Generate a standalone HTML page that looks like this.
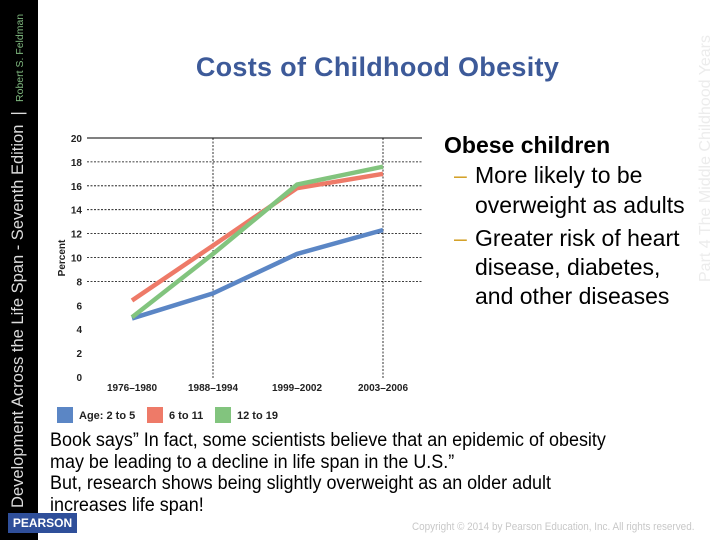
<!DOCTYPE html>
<html><head><meta charset="utf-8"><style>
body{margin:0;width:720px;height:540px;overflow:hidden;background:#fff;font-family:"Liberation Sans",sans-serif;position:relative}
.abs{position:absolute}
</style></head><body>
<div class="abs" style="left:0;top:0;width:38px;height:540px;background:#000"></div>
<div class="abs" style="left:8px;top:508px;transform-origin:0 0;transform:rotate(-90deg);color:#ddd;font-size:16.5px;white-space:nowrap;line-height:20px">Development Across the Life Span - Seventh Edition &nbsp;| &nbsp;<span style="color:#7fb87f;font-size:10.5px">Robert S. Feldman</span></div>
<div class="abs" style="left:8px;top:513px;width:69px;height:20px;background:#2f4f9a;color:#fff;font-size:12px;font-weight:bold;line-height:20px;text-align:center">PEARSON</div>
<div class="abs" style="left:696px;top:282px;transform-origin:0 0;transform:rotate(-90deg);color:#ececec;font-size:16px;white-space:nowrap;line-height:20px">Part 4 The Middle Childhood Years</div>
<div class="abs" style="left:100px;top:52px;width:555px;text-align:center;color:#3d5a99;font-size:27px;font-weight:bold;letter-spacing:0.3px">Costs of Childhood Obesity</div>
<div class="abs" style="left:444px;top:130px;font-size:23px;line-height:30px;color:#000;width:276px;white-space:nowrap">
<div style="font-weight:bold">Obese children</div>
<div style="position:relative;padding-left:31px"><span style="position:absolute;left:10px;color:#d4a22a">–</span>More likely to be<br>overweight as adults</div>
<div style="position:relative;padding-left:31px;line-height:29px;margin-top:4px"><span style="position:absolute;left:10px;color:#d4a22a">–</span>Greater risk of heart<br>disease, diabetes,<br>and other diseases</div>
</div>
<div class="abs" style="left:50px;top:430px;font-size:19px;line-height:21.5px;color:#000;transform:scaleX(0.945);transform-origin:left top;white-space:nowrap">Book says” In fact, some scientists believe that an epidemic of obesity<br>may be leading to a decline in life span in the U.S.”<br>But, research shows being slightly overweight as an older adult<br>increases life span!</div>
<div class="abs" style="left:412px;top:521px;font-size:11px;color:#c8c8c8;transform:scaleX(0.9);transform-origin:left top;white-space:nowrap">Copyright © 2014 by Pearson Education, Inc. All rights reserved.</div>
<svg class="abs" style="left:0;top:0" width="720" height="540">
<g id="chart"></g></svg>
<script>
const categories=["1976–1980","1988–1994","1999–2002","2003–2006"];
const yTicks=[0,2,4,6,8,10,12,14,16,18,20];
const age2to5=[4.9,7.0,10.3,12.3];
const age6to11=[6.4,11.0,15.8,17.0];
const age12to19=[5.0,10.3,16.1,17.6];
const seriesNames=["Age: 2 to 5","6 to 11","12 to 19"];
const colors=["#5b86c5","#ee7a68","#82c47e"];
const NS="http://www.w3.org/2000/svg";
const g=document.getElementById('chart');
function x(i){return 132+[0,81,165,251][i];}
function y(v){return 377-v*11.95;}
function mk(t,a){const e=document.createElementNS(NS,t);for(const k in a)e.setAttribute(k,a[k]);g.appendChild(e);return e;}
yTicks.forEach(v=>{
 if(v>=8){const l=mk('line',{x1:87,x2:422,y1:y(v),y2:y(v),stroke:'#000','stroke-width':v==20?1:0.8,'stroke-dasharray':v==20?'':'2,1.5'});
 
 }
 const t=mk('text',{x:82,y:y(v)+4,'text-anchor':'end','font-size':10,'font-weight':'bold',fill:'#222'});t.textContent=v;
 
 
});
[1,3].forEach(i=>{const l=mk('line',{x1:x(i),x2:x(i),y1:y(20),y2:y(0)+2,stroke:'#000','stroke-width':0.8,'stroke-dasharray':'2,1.5'});
 
 });
categories.forEach((c,i)=>{const t=mk('text',{x:x(i),y:391,'text-anchor':'middle','font-size':10,'font-weight':'bold',fill:'#222'});t.textContent=c;
 
 });
const yt=mk('text',{x:0,y:0,transform:'translate(65,258) rotate(-90)','text-anchor':'middle','font-size':10,'font-weight':'bold',fill:'#222'});yt.textContent='Percent';


[age2to5,age6to11,age12to19].forEach((s,k)=>{
 const pts=s.map((v,i)=>x(i)+','+y(v)).join(' ');
 const p=mk('polyline',{points:pts,fill:'none',stroke:colors[k],'stroke-width':4.5,'stroke-linejoin':'round'});
 
 
});
const lx=[57,147,215];
seriesNames.forEach((n,k)=>{
 const r=mk('rect',{x:lx[k],y:407,width:16,height:16,fill:colors[k]});
 
 
 const t=mk('text',{x:lx[k]+22,y:419,'font-size':11,'font-weight':'bold',fill:'#222'});t.textContent=n;
 
 
});
</script>
</body></html>
